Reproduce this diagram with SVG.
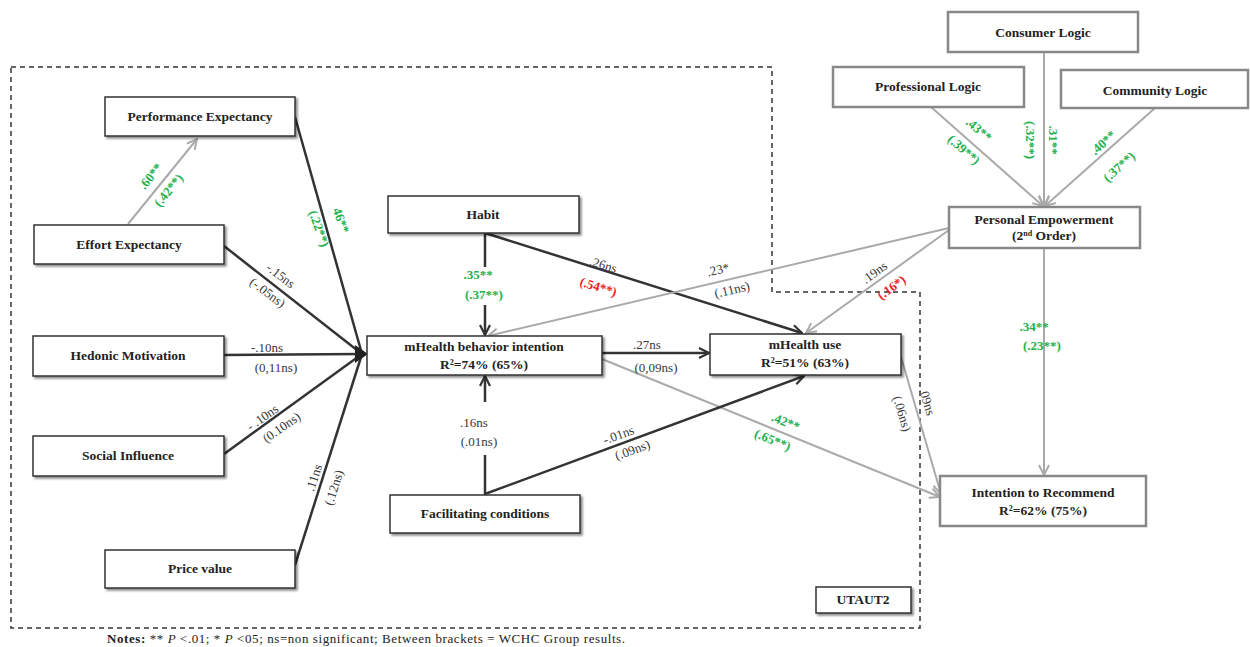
<svg xmlns="http://www.w3.org/2000/svg" width="1250" height="647" viewBox="0 0 1250 647">
<defs>
<style>
.box{fill:#fff;stroke:#333;stroke-width:1.5;filter:url(#sh)}
.gbox{fill:#fff;stroke:#888;stroke-width:2.5}
.bt{font-family:"Liberation Serif","Times New Roman",serif;font-weight:bold;font-size:13.5px;fill:#222;text-anchor:middle}
.dk{fill:none;stroke:#333;stroke-width:2.5}
.gy{fill:none;stroke:#aaa;stroke-width:2}
.lb{font-family:"Liberation Serif","Times New Roman",serif;font-size:13px;fill:#383838;text-anchor:middle}
.gn{font-family:"Liberation Serif","Times New Roman",serif;font-size:13px;font-weight:bold;fill:#22b14c;text-anchor:middle}
.rd{font-family:"Liberation Serif","Times New Roman",serif;font-size:13px;font-weight:bold;fill:#ee1c24;text-anchor:middle}
.nt{font-family:"Liberation Serif","Times New Roman",serif;font-size:13px;fill:#222}
</style>
<filter id="sh" x="-10%" y="-20%" width="130%" height="160%">
<feDropShadow dx="2" dy="2" stdDeviation="1.2" flood-color="#000" flood-opacity="0.45"/>
</filter>
<marker id="ad" viewBox="0 0 12 12" refX="11" refY="6" markerWidth="12" markerHeight="12" markerUnits="userSpaceOnUse" orient="auto">
<path d="M1,1 L11,6 L1,11" fill="none" stroke="#333" stroke-width="2.2"/>
</marker>
<marker id="ag" viewBox="0 0 12 12" refX="11" refY="6" markerWidth="12" markerHeight="12" markerUnits="userSpaceOnUse" orient="auto">
<path d="M1,1 L11,6 L1,11" fill="none" stroke="#aaa" stroke-width="2"/>
</marker>
</defs>
<rect width="1250" height="647" fill="#fff"/>

<path d="M11,67 H772 V292 H920 V628 H11 Z" fill="none" stroke="#333" stroke-width="1.5" stroke-dasharray="5,4"/>

<g id="connectors">
<line class="gy" x1="128" y1="224" x2="197" y2="139" marker-end="url(#ag)"/>
<line class="dk" x1="295" y1="117" x2="362" y2="354"/>
<line class="dk" x1="224" y1="246" x2="362" y2="354"/>
<line class="dk" x1="224" y1="355" x2="362" y2="354"/>
<line class="dk" x1="224" y1="454" x2="362" y2="354"/>
<line class="dk" x1="295" y1="565" x2="362" y2="354"/>
<path d="M355,345 L368,354 L355,363 Z" fill="#222"/>
<circle cx="360" cy="354" r="4" fill="#222"/>
<line class="dk" x1="485" y1="233" x2="485" y2="267"/>
<line class="dk" x1="485" y1="305" x2="485" y2="335" marker-end="url(#ad)"/>
<line class="dk" x1="485" y1="233" x2="802" y2="333" marker-end="url(#ad)"/>
<line class="gy" x1="949" y1="228" x2="488" y2="336" marker-end="url(#ag)"/>
<line class="gy" x1="949" y1="230" x2="806" y2="333" marker-end="url(#ag)"/>
<line class="dk" x1="602" y1="353" x2="709" y2="353" marker-end="url(#ad)"/>
<line class="gy" x1="602" y1="359" x2="940" y2="497" marker-end="url(#ag)"/>
<line class="dk" x1="485" y1="495" x2="485" y2="455"/>
<line class="dk" x1="485" y1="402" x2="485" y2="376" marker-end="url(#ad)"/>
<line class="dk" x1="485" y1="494" x2="804" y2="376" marker-end="url(#ad)"/>
<line class="gy" x1="901" y1="357" x2="941" y2="494" marker-end="url(#ag)"/>
<line class="gy" x1="1044" y1="248" x2="1044" y2="475" marker-end="url(#ag)"/>
<line class="gy" x1="1044" y1="52" x2="1044" y2="206" marker-end="url(#ag)"/>
<line class="gy" x1="931" y1="107" x2="1043" y2="206" marker-end="url(#ag)"/>
<line class="gy" x1="1155" y1="108" x2="1045" y2="206" marker-end="url(#ag)"/>
</g>

<g id="edge-labels">
<text class="gn" transform="translate(154,179) rotate(-51)">.60**</text>
<text class="gn" transform="translate(172,193) rotate(-51)">(.42**)</text>
<text class="gn" transform="translate(337,222) rotate(70)">46**</text>
<text class="gn" transform="translate(315,230) rotate(70)">(.22**)</text>
<text class="lb" transform="translate(278,279) rotate(37)">-.15ns</text>
<text class="lb" transform="translate(265,296) rotate(37)">(-.05ns)</text>
<text class="lb" x="267" y="352">-.10ns</text>
<text class="lb" x="276" y="372">(0,11ns)</text>
<text class="lb" transform="translate(265,421) rotate(-35)">- .10ns</text>
<text class="lb" transform="translate(284,431) rotate(-35)">(0.10ns)</text>
<text class="lb" transform="translate(318,479) rotate(-72)">.11ns</text>
<text class="lb" transform="translate(338,489) rotate(-72)">(.12ns)</text>
<text class="gn" x="478" y="279">.35**</text>
<text class="gn" x="484" y="299">(.37**)</text>
<text class="lb" transform="translate(602,269) rotate(17)">.26ns</text>
<text class="rd" transform="translate(597,291) rotate(17)">(.54**)</text>
<text class="lb" transform="translate(719,274) rotate(-13)">.23*</text>
<text class="lb" transform="translate(733,294) rotate(-13)">(.11ns)</text>
<text class="lb" transform="translate(877,276) rotate(-36)">.19ns</text>
<text class="rd" transform="translate(894,291) rotate(-36)">(.16*)</text>
<text class="lb" x="647" y="349">.27ns</text>
<text class="lb" x="656" y="372">(0,09ns)</text>
<text class="gn" transform="translate(784,426) rotate(22)">.42**</text>
<text class="gn" transform="translate(771,444) rotate(22)">(.65**)</text>
<text class="lb" x="474" y="427">.16ns</text>
<text class="lb" x="479" y="446">(.01ns)</text>
<text class="lb" transform="translate(620,439) rotate(-20)">-.01ns</text>
<text class="lb" transform="translate(634,454) rotate(-20)">(.09ns)</text>
<text class="lb" transform="translate(923,403) rotate(73)">.09ns</text>
<text class="lb" transform="translate(898,415) rotate(73)">(.06ns)</text>
<text class="gn" transform="translate(976,133) rotate(41)">.43**</text>
<text class="gn" transform="translate(961,153) rotate(41)">(.39**)</text>
<text class="gn" transform="translate(1049,140) rotate(90)">.31**</text>
<text class="gn" transform="translate(1026,140) rotate(90)">(.32**)</text>
<text class="gn" transform="translate(1106,146) rotate(-42)">.40**</text>
<text class="gn" transform="translate(1122,170) rotate(-42)">(.37**)</text>
<text class="gn" x="1034" y="331">.34**</text>
<text class="gn" x="1042" y="350">(.23**)</text>
</g>

<g id="n-pe"><rect class="box" x="105" y="97" width="190" height="39"/><text class="bt" x="200" y="121">Performance Expectancy</text></g>
<g id="n-ee"><rect class="box" x="34" y="225" width="190" height="39"/><text class="bt" x="129" y="249">Effort Expectancy</text></g>
<g id="n-hm"><rect class="box" x="33" y="336" width="191" height="40"/><text class="bt" x="128" y="360">Hedonic Motivation</text></g>
<g id="n-si"><rect class="box" x="33" y="436" width="191" height="40"/><text class="bt" x="128" y="460">Social Influence</text></g>
<g id="n-pv"><rect class="box" x="105" y="550" width="190" height="38"/><text class="bt" x="200" y="573">Price value</text></g>
<g id="n-habit"><rect class="box" x="388" y="196" width="191" height="37"/><text class="bt" x="483" y="219">Habit</text></g>
<g id="n-bi"><rect class="box" x="367" y="336" width="235" height="39"/><text class="bt" x="484" y="351">mHealth behavior  intention</text><text class="bt" x="484" y="369">R²=74% (65%)</text></g>
<g id="n-use"><rect class="box" x="710" y="334" width="191" height="41"/><text class="bt" x="805" y="349">mHealth use</text><text class="bt" x="805" y="367">R²=51% (63%)</text></g>
<g id="n-fc"><rect class="box" x="390" y="495" width="190" height="38"/><text class="bt" x="485" y="518">Facilitating conditions</text></g>
<g id="n-cons"><rect class="gbox" x="948" y="12" width="190" height="40"/><text class="bt" x="1043" y="37">Consumer Logic</text></g>
<g id="n-prof"><rect class="gbox" x="833" y="67" width="191" height="40"/><text class="bt" x="928" y="91">Professional Logic</text></g>
<g id="n-comm"><rect class="gbox" x="1061" y="70" width="187" height="38"/><text class="bt" x="1155" y="95">Community Logic</text></g>
<g id="n-emp"><rect class="gbox" x="949" y="207" width="191" height="41"/><text class="bt" x="1044" y="224">Personal Empowerment</text><text class="bt" x="1044" y="240">(2<tspan font-size="8" baseline-shift="super">nd</tspan> Order)</text></g>
<g id="n-ir"><rect class="gbox" x="940" y="476" width="206" height="50"/><text class="bt" x="1043" y="497">Intention to Recommend</text><text class="bt" x="1043" y="515">R²=62% (75%)</text></g>
<g id="n-utaut"><rect class="box" x="816" y="587" width="95" height="26"/><text class="bt" x="863" y="604" font-size="12">UTAUT2</text></g>

<text class="nt" x="107" y="643" textLength="518" lengthAdjust="spacing"><tspan font-weight="bold">Notes:</tspan> ** <tspan font-style="italic">P</tspan> &lt;.01; * <tspan font-style="italic">P</tspan> &lt;05; ns=non significant; Between brackets = WCHC Group results.</text>
</svg>
